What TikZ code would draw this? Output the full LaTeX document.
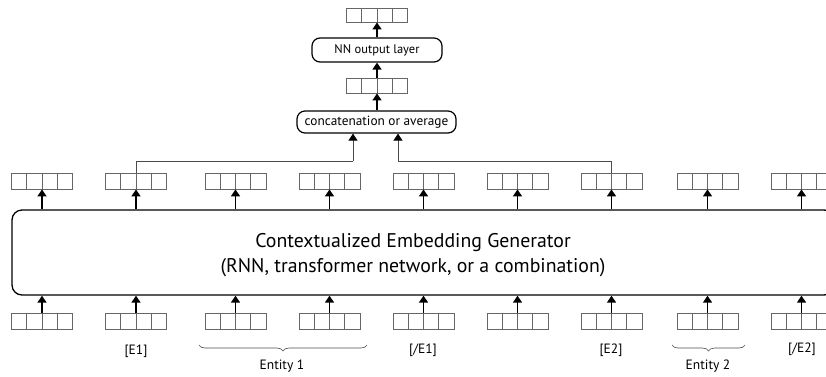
\documentclass[tikz,border=0pt]{standalone}
\usepackage{fontspec}
\setmainfont{PT Sans}
\usetikzlibrary{arrows.meta,calc,decorations.pathreplacing}
\begin{document}
\begin{tikzpicture}[x=1pt,y=-1pt,
  vec/.style={draw=black!60, line width=0.8pt, minimum width=61pt, minimum height=16pt, inner sep=0pt,
    path picture={\foreach \f in {0.25,0.5,0.75}{\draw[black!60, line width=0.8pt]
      ($(path picture bounding box.south west)!\f!(path picture bounding box.south east)$) --
      ($(path picture bounding box.north west)!\f!(path picture bounding box.north east)$);}}},
  arr/.style={line width=1.5pt, -{Triangle[width=9pt,length=7pt]}},
  thinarr/.style={draw=black!70, line width=0.8pt, -{Triangle[width=9pt,length=7pt,fill=black,color=black]}},
  conn/.style={draw=black!70, line width=0.8pt},
  rbox/.style={draw, line width=1.2pt, rounded corners=8pt, inner sep=0pt},
  lab/.style={font=\fontsize{13.5}{15}\selectfont, inner sep=0pt},
  brc/.style={draw=black!70, line width=0.6pt, decorate, decoration={brace, mirror, amplitude=6pt}}
]
\useasboundingbox (0,0) rectangle (826,376);
% generator box
\node[draw, line width=1.3pt, rounded corners=10pt, minimum width=822pt, minimum height=85pt, inner sep=0pt] (gen) at (423,252.5) {};
\node[inner sep=0pt, align=center, font=\fontsize{19.8}{25}\selectfont] (gentxt) at (413,255) {Contextualized Embedding Generator\\(RNN, transformer network, or a combination)};
% vector rows
\foreach \x [count=\i] in {42,136,235.5,329.5,423.5,517.5,611.5,707.5,801.5}{
  \node[vec] (b\i) at (\x,321) {};
  \node[vec] (t\i) at (\x,181) {};
  \draw[arr] (b\i.north) -- (b\i |- gen.south);
  \draw[arr] (t\i |- gen.north) -- (t\i.south);
}
% top part
\node[rbox, minimum width=159pt, minimum height=22pt, font=\fontsize{13.3}{15}\selectfont] (cat) at (376.5,122) {concatenation or average};
\node[vec, minimum height=15pt] (mid) at (377,85.5) {};
\node[rbox, minimum width=130pt, minimum height=24pt, font=\fontsize{12.5}{14}\selectfont] (nn) at (377,50) {NN output layer};
\node[vec, minimum height=14pt] (top) at (377,15) {};
\draw[arr] (cat.north -| mid) -- (mid.south);
\draw[arr] (mid.north) -- (nn.south -| mid);
\draw[arr] (nn.north -| top) -- (top.south);
% connectors to concatenation
\coordinate (j1) at (353,161);
\coordinate (j2) at (398,161);
\draw[conn] (t2.north) |- (j1);
\draw[thinarr] (j1) -- (j1 |- cat.south);
\draw[conn] (t7.north) |- (j2);
\draw[thinarr] (j2) -- (j2 |- cat.south);
% labels
\node[lab] (le1) at (136,351) {[E1]};
\node[lab] (lse1) at (423,350) {[/E1]};
\node[lab] (le2) at (611,350) {[E2]};
\node[lab] (lse2) at (802,349) {[/E2]};
\draw[brc] (199,345) -- (367,345);
\node[lab] (ent1) at (282,366) {Entity 1};
\draw[brc] (672,345) -- (745,345);
\node[lab] (ent2) at (708,366) {Entity 2};
\end{tikzpicture}
\end{document}
